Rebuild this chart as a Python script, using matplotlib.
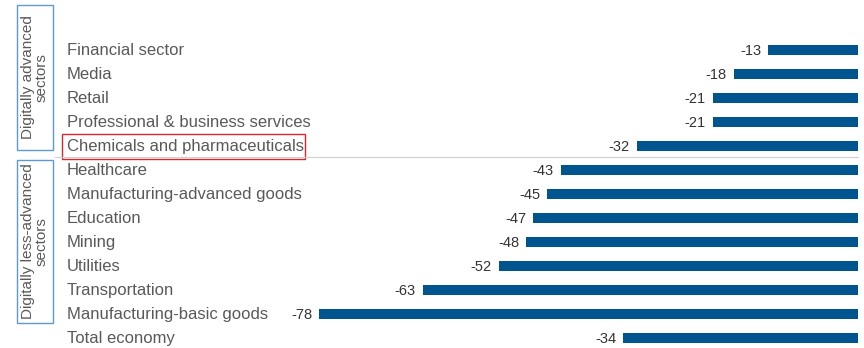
import matplotlib.pyplot as plt
from matplotlib.patches import Rectangle
from matplotlib.transforms import blended_transform_factory

plt.rcParams['font.family'] = ['Liberation Sans', 'DejaVu Sans']

sectors = ["Financial sector", "Media", "Retail", "Professional & business services",
           "Chemicals and pharmaceuticals", "Healthcare", "Manufacturing-advanced goods",
           "Education", "Mining", "Utilities", "Transportation",
           "Manufacturing-basic goods", "Total economy"]
values = [-13, -18, -21, -21, -32, -43, -45, -47, -48, -52, -63, -78, -34]
groups = ["Digitally advanced\nsectors", "Digitally less-advanced\nsectors"]

W, H = 864, 348
fig = plt.figure(figsize=(W / 100, H / 100), dpi=100)
# axes spans from the longest bar's start to zero
ax = fig.add_axes([319 / W, 0, (858 - 319) / W, 1])
ax.set_xlim(-78, 0)
ax.set_ylim((H - 50) / 24, -50 / 24)
ax.axis('off')

bar_color = '#00558f'
pos = list(range(len(sectors)))
ax.barh(pos, values, height=0.38, color=bar_color)

for y, v in zip(pos, values):
    ax.text(v - 1.0, y + 0.04, str(v), ha='right', va='center', fontsize=10.5,
            color='#333333')

fx = blended_transform_factory(fig.transFigure, ax.transData)
for y, name in zip(pos, sectors):
    ax.text(67 / W, y + 0.04, name, transform=fx, ha='left', va='center',
            fontsize=12, color='#595959')

# highlight box and divider
fig.patches.append(Rectangle((62 / W, 1 - 159 / H), (305 - 62) / W, 25 / H,
                             transform=fig.transFigure, fill=False,
                             edgecolor='#d6262e', lw=1.0))
fig.add_artist(plt.Line2D([55 / W, 858 / W], [1 - 157 / H] * 2,
                          transform=fig.transFigure, color='#d0d0d0', lw=0.8))

# group boxes on the left
boxes = [(5, 150), (160, 323)]
for (top, bot), label in zip(boxes, groups):
    fig.patches.append(Rectangle((17 / W, 1 - bot / H), 36 / W, (bot - top) / H,
                                 transform=fig.transFigure, fill=False,
                                 edgecolor='#5b9bd0', lw=1.0))
    fig.text(35 / W, 1 - (top + bot) / 2 / H, label, rotation=90, ha='center',
             va='center', fontsize=11, color='#595959', linespacing=1.0,
             multialignment='center')

fig.savefig('out.png', dpi=100)
